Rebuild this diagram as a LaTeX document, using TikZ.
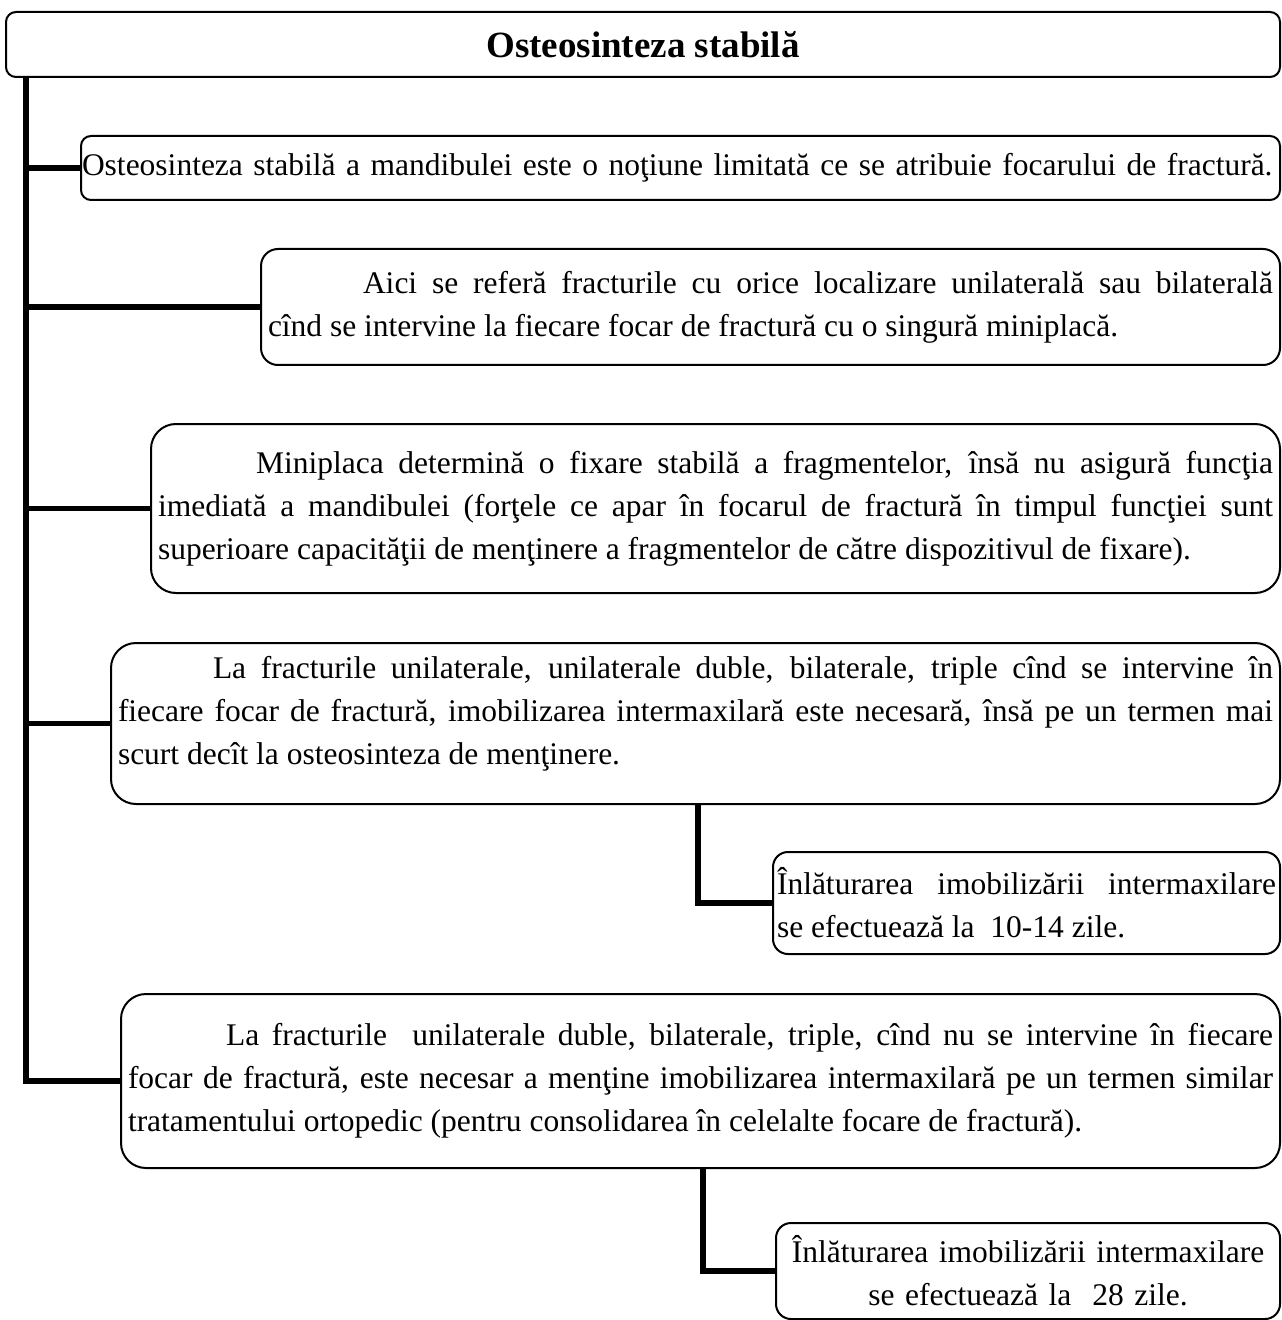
\documentclass[tikz,border=0pt]{standalone}
\usepackage{fontspec}
\setmainfont{Liberation Serif}
\begin{document}
\begin{tikzpicture}[x=0.5pt,y=-0.5pt,
  boxstyle/.style={draw=black,line width=1pt,fill=white,inner ysep=0pt,
    font=\fontsize{15.75}{21.5}\selectfont,anchor=north west},
  conn/.style={line width=2.6pt,line join=miter,line cap=butt}]
\useasboundingbox (0,0) rectangle (1281,1320);
% title
\node[boxstyle,rounded corners=5pt,minimum width=637pt,minimum height=32.5pt,
  font=\fontsize{18.5}{22}\selectfont\bfseries,align=center] (title) at (5,11) {Osteosinteza stabilă};
% box 1
\node[boxstyle,rounded corners=5pt,minimum width=599.5pt,minimum height=32pt,
  inner xsep=0.5pt,text width=598.5pt,align=left] (b1) at (80,135)
  {Osteosinteza stabilă a mandibulei este o noţiune limitată ce se atribuie focarului de fractură.};
% box 2
\node[boxstyle,rounded corners=8.5pt,minimum width=509.5pt,minimum height=58pt,
  inner xsep=3.5pt,text width=502.5pt,align=justify] (b2) at (260,248)
  {\hspace*{47.5pt}Aici se referă fracturile cu orice localizare unilaterală sau bilaterală\linebreak
   cînd se intervine la fiecare focar de fractură cu o singură miniplacă.};
% box 3
\node[boxstyle,rounded corners=12.5pt,minimum width=564.5pt,minimum height=84.5pt,
  inner xsep=3.5pt,text width=557.5pt,align=justify] (b3) at (150,423)
  {\hspace*{49pt}Miniplaca determină o fixare stabilă a fragmentelor, însă nu asigură funcţia\linebreak
   imediată a mandibulei (forţele ce apar în focarul de fractură în timpul funcţiei sunt\linebreak
   superioare capacităţii de menţinere a fragmentelor de către dispozitivul de fixare).};
% box 4
\node[boxstyle,rounded corners=12.5pt,minimum width=584.5pt,minimum height=80.5pt,
  inner xsep=3.5pt,text width=577.5pt,align=justify] (b4) at (110,642)
  {\hspace*{47.5pt}La fracturile unilaterale, unilaterale duble, bilaterale, triple cînd se intervine în\linebreak
   fiecare focar de fractură, imobilizarea intermaxilară este necesară, însă pe un termen mai\linebreak
   scurt decît la osteosinteza de menţinere.\par\vskip 10pt\hrule height 0pt depth 0pt width 0pt};
% box 5
\node[boxstyle,rounded corners=7.5pt,minimum width=253.5pt,minimum height=51pt,
  inner xsep=2pt,text width=249.5pt,align=justify] (b5) at (772,851)
  {Înlăturarea imobilizării intermaxilare\linebreak
   se efectuează la\ \ 10-14 zile.};
% box 6
\node[boxstyle,rounded corners=12.5pt,minimum width=579.5pt,minimum height=87pt,
  inner xsep=3.5pt,text width=572.5pt,align=justify] (b6) at (120,993)
  {\hspace*{49pt}La fracturile\ \ unilaterale duble, bilaterale, triple, cînd nu se intervine în fiecare\linebreak
   focar de fractură, este necesar a menţine imobilizarea intermaxilară pe un termen similar\linebreak
   tratamentului ortopedic (pentru consolidarea în celelalte focare de fractură).};
% box 7
\node[boxstyle,rounded corners=7.5pt,minimum width=252pt,minimum height=48pt,
  inner xsep=3pt,text width=246pt,align=center] (b7) at (775,1222)
  {Înlăturarea imobilizării intermaxilare\\ se efectuează la\ \ 28 zile.};
% connectors
\coordinate (sp) at (26,76);
\coordinate (k1) at (698,0);
\coordinate (k2) at (703,0);
\draw[conn] (sp) |- (b6.west);
\draw[conn] (b1.west -| sp) -- (b1.west);
\draw[conn] (b2.west -| sp) -- (b2.west);
\draw[conn] (b3.west -| sp) -- (b3.west);
\draw[conn] (b4.west -| sp) -- (b4.west);
\draw[conn] (b4.south -| k1) |- (b5.west);
\draw[conn] (b6.south -| k2) |- (b7.west);
\end{tikzpicture}
\end{document}
